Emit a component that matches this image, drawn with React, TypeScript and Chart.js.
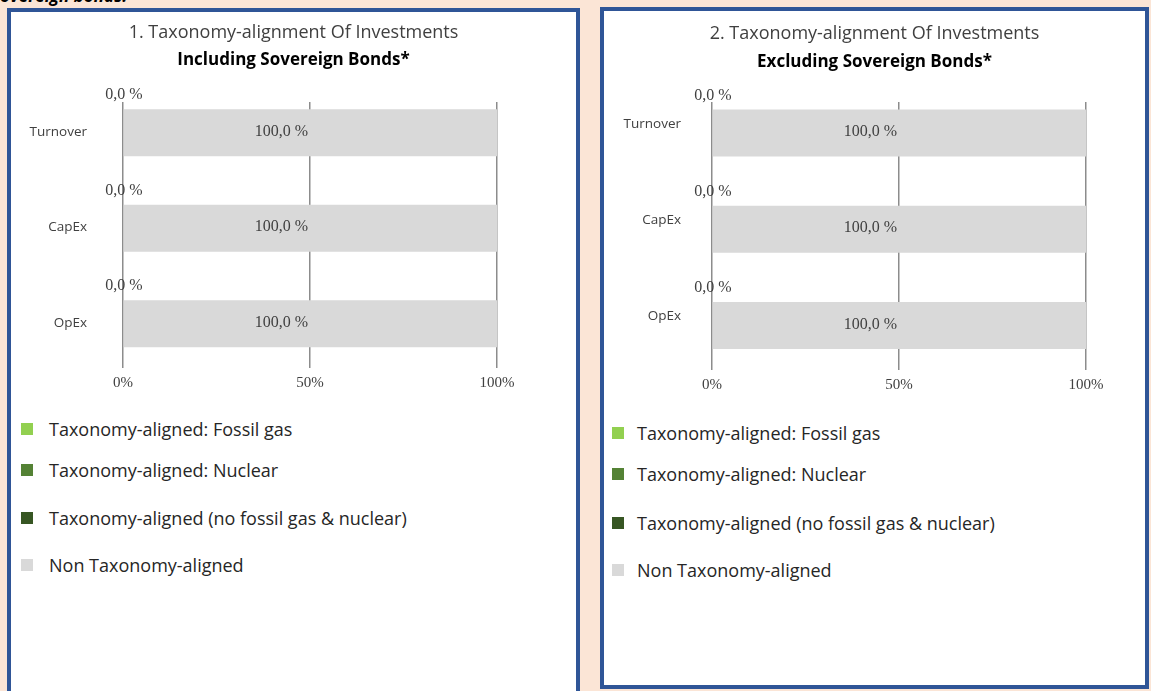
import React, { useEffect, useRef } from 'react';
import { Chart, registerables } from 'chart.js';

Chart.register(...registerables);

// ---------- data ----------
const categories = ['Turnover', 'CapEx', 'OpEx'];
const seriesNames = [
  'Taxonomy-aligned: Fossil gas',
  'Taxonomy-aligned: Nuclear',
  'Taxonomy-aligned (no fossil gas & nuclear)',
  'Non Taxonomy-aligned',
];
const seriesColors = ['#92D050', '#548235', '#375623', '#D9D9D9'];

const inclFossilGas = [0, 0, 0];
const inclNuclear = [0, 0, 0];
const inclAligned = [0, 0, 0];
const inclNonAligned = [100, 100, 100];

const exclFossilGas = [0, 0, 0];
const exclNuclear = [0, 0, 0];
const exclAligned = [0, 0, 0];
const exclNonAligned = [100, 100, 100];

const xTickValues = [0, 50, 100];

// ---------- layout ----------
const PEACH = '#FBE5D6';
const BLUE = '#2F5597';

const panels = [
  {
    key: 'incl',
    title: '1. Taxonomy-alignment Of Investments',
    subtitle: 'Including Sovereign Bonds*',
    series: [inclFossilGas, inclNuclear, inclAligned, inclNonAligned],
    box: { left: 7, top: 8, width: 573, height: 700 },
    canvas: { left: 11, top: 12, width: 565, height: 400 },
    yAxisWidth: 112,
    rightWidth: 79,
    yLabelPad: 36,
    yLabelOffset: -1,
    titlePadTop: 10,
    subtitlePadTop: 6,
    subtitlePadBottom: 32,
    legendSquareLeft: 21,
    legendTextLeft: 49,
    legendY: [429, 470, 518, 565],
  },
  {
    key: 'excl',
    title: '2. Taxonomy-alignment Of Investments',
    subtitle: 'Excluding Sovereign Bonds*',
    series: [exclFossilGas, exclNuclear, exclAligned, exclNonAligned],
    box: { left: 600, top: 7, width: 549, height: 682 },
    canvas: { left: 604, top: 12, width: 541, height: 400 },
    yAxisWidth: 108,
    rightWidth: 59,
    yLabelPad: 31,
    yLabelOffset: -9,
    titlePadTop: 11,
    subtitlePadTop: 7,
    subtitlePadBottom: 30,
    legendSquareLeft: 612,
    legendTextLeft: 637,
    legendY: [433, 474, 523, 570],
  },
];

const fmt = (v: number) => `${v.toFixed(1).replace('.', ',')} %`;

const labelPlugin = {
  id: 'barLabels',
  afterDatasetsDraw(chart: any) {
    const ctx = chart.ctx;
    ctx.save();
    ctx.font = '16px "Liberation Serif"';
    ctx.fillStyle = '#404040';
    ctx.textBaseline = 'middle';
    ctx.textAlign = 'center';
    chart.data.datasets.forEach((ds: any, di: number) => {
      const meta = chart.getDatasetMeta(di);
      meta.data.forEach((bar: any, i: number) => {
        const v = ds.data[i].x;
        const { x, y, base, height } = bar.getProps(['x', 'y', 'base', 'height'], true);
        if (ds.labelMode === 'inside') {
          ctx.fillText(fmt(v), base + (x - base) * 0.4225, y - 1);
        } else if (ds.labelMode === 'above') {
          ctx.fillText(fmt(v), x + 1, y - height / 2 - 14);
        }
      });
    });
    ctx.restore();
  },
};

function PanelChart({ cfg }: { cfg: any }) {
  const ref = useRef<HTMLCanvasElement>(null);
  useEffect(() => {
    if (!ref.current) return;
    const datasets = seriesNames.map((name, si) => ({
      label: name,
      data: cfg.series[si].map((v: number, i: number) => ({ x: v, y: i })),
      backgroundColor: seriesColors[si],
      borderWidth: 0,
      inflateAmount: 0,
      barThickness: 47,
      labelMode: si === 2 ? 'above' : si === 3 ? 'inside' : 'none',
    }));
    const chart = new Chart(ref.current, {
      type: 'bar',
      data: { datasets } as any,
      options: {
        indexAxis: 'y',
        responsive: false,
        animation: false,
        layout: { padding: { top: 0, left: 0, right: 0, bottom: 18 } },
        plugins: {
          legend: { display: false },
          tooltip: { enabled: false },
          title: {
            display: true,
            text: cfg.title,
            color: '#404040',
            font: { family: 'Open Sans', size: 18, weight: 'normal' },
            padding: { top: cfg.titlePadTop, bottom: 0 },
          },
          subtitle: {
            display: true,
            text: cfg.subtitle,
            color: '#000000',
            font: { family: 'Open Sans', size: 17, weight: 'bold' },
            padding: { top: cfg.subtitlePadTop, bottom: cfg.subtitlePadBottom },
          },
        },
        scales: {
          x: {
            type: 'linear',
            stacked: true,
            min: 0,
            max: 100,
            position: 'bottom',
            offset: false,
            afterBuildTicks: (s: any) => {
              s.ticks = xTickValues.map((v) => ({ value: v }));
            },
            afterFit: (s: any) => {
              s.height = 24;
            },
            grid: { color: '#8c8c8c', lineWidth: 1.5, drawTicks: false },
            border: { display: false },
            ticks: {
              padding: 6,
              color: '#404040',
              font: { family: 'Liberation Serif', size: 15 },
              callback: (v: any) => `${v}%`,
              maxRotation: 0,
              autoSkip: false,
            },
          },
          y: {
            type: 'linear',
            stacked: true,
            reverse: true,
            offset: false,
            min: -0.322,
            max: 2.462,
            position: 'left',
            afterBuildTicks: (s: any) => {
              s.ticks = categories.map((_, i) => ({ value: i }));
            },
            afterFit: (s: any) => {
              s.width = cfg.yAxisWidth;
            },
            grid: { display: false, drawTicks: false, offset: false },
            border: { display: false },
            ticks: {
              padding: cfg.yLabelPad,
              labelOffset: cfg.yLabelOffset,
              color: '#404040',
              font: { family: 'Open Sans', size: 13.5 },
              callback: (v: any) => categories[v] ?? '',
              autoSkip: false,
            },
          },
          yRight: {
            type: 'linear',
            position: 'right',
            display: true,
            grid: { display: false, drawTicks: false },
            border: { display: false },
            ticks: { display: false },
            afterFit: (s: any) => {
              s.width = cfg.rightWidth;
            },
          },
        } as any,
      } as any,
      plugins: [labelPlugin],
    });
    return () => chart.destroy();
  }, [cfg]);

  return (
    <canvas
      ref={ref}
      width={cfg.canvas.width}
      height={cfg.canvas.height}
      style={{
        position: 'absolute',
        left: cfg.canvas.left,
        top: cfg.canvas.top,
        width: cfg.canvas.width,
        height: cfg.canvas.height,
      }}
    />
  );
}

function Legend({ cfg }: { cfg: any }) {
  return (
    <>
      {seriesNames.map((name, i) => (
        <div
          key={name}
          style={{
            position: 'absolute',
            left: cfg.legendSquareLeft,
            top: cfg.legendY[i] - 12,
            height: 24,
            display: 'flex',
            alignItems: 'center',
            whiteSpace: 'nowrap',
          }}
        >
          <span
            style={{
              display: 'inline-block',
              width: 12,
              height: 12,
              background: seriesColors[i],
            }}
          />
          <span
            style={{
              marginLeft: cfg.legendTextLeft - cfg.legendSquareLeft - 12,
              fontFamily: '"Open Sans", sans-serif',
              fontSize: 18,
              lineHeight: '24px',
              color: '#262626',
            }}
          >
            {name}
          </span>
        </div>
      ))}
    </>
  );
}

export default function App() {
  return (
    <div
      style={{
        position: 'fixed',
        left: 0,
        top: 0,
        width: 1151,
        height: 691,
        background: PEACH,
        overflow: 'hidden',
      }}
    >
      <div
        style={{
          position: 'absolute',
          left: -8,
          top: -13,
          fontFamily: '"Open Sans", sans-serif',
          fontSize: 17,
          lineHeight: '17px',
          fontWeight: 'bold',
          fontStyle: 'italic',
          color: '#000',
          whiteSpace: 'nowrap',
        }}
      >
        sovereign bonds.
      </div>
      {panels.map((p) => (
        <div
          key={p.key + '-box'}
          style={{
            position: 'absolute',
            left: p.box.left,
            top: p.box.top,
            width: p.box.width,
            height: p.box.height,
            boxSizing: 'border-box',
            border: `4px solid ${BLUE}`,
            background: '#ffffff',
          }}
        />
      ))}
      {panels.map((p) => (
        <PanelChart key={p.key + '-chart'} cfg={p} />
      ))}
      {panels.map((p) => (
        <Legend key={p.key + '-legend'} cfg={p} />
      ))}
    </div>
  );
}
